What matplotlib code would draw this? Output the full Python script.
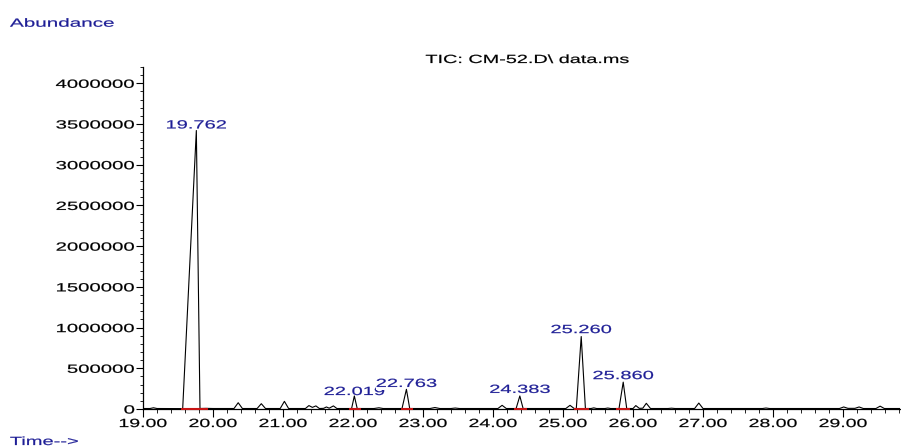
import matplotlib
matplotlib.use("Agg")
import matplotlib.pyplot as plt
import matplotlib.colors as mcolors
from matplotlib.patheffects import AbstractPathEffect
from matplotlib.transforms import Affine2D
from matplotlib.path import Path
from matplotlib.ticker import FixedLocator, MultipleLocator
import numpy as np

# Labelled peaks: retention time (min) and apex abundance
peak_rt = [19.762, 22.019, 22.763, 24.383, 25.260, 25.860]
peak_abund = [3420000, 160000, 242000, 160000, 890000, 330000]

# Integration window of each labelled peak (min)
int_start = [19.54, 21.94, 22.69, 24.30, 25.16, 25.76]
int_end = [19.93, 22.11, 22.86, 24.49, 25.37, 25.96]

# Remaining points of the TIC trace (baseline and minor peaks)
trace_rt = [
    19.00, 19.10, 19.15, 19.20, 19.50, 19.567, 19.814, 19.90, 20.00,
    20.30, 20.36, 20.42, 20.63, 20.69, 20.75, 20.96, 21.02, 21.08,
    21.32, 21.37, 21.42, 21.47, 21.52, 21.58, 21.62, 21.66, 21.72, 21.77,
    21.98, 22.06, 22.30, 22.37, 22.43, 22.70, 22.81,
    23.10, 23.17, 23.24, 23.40, 23.46, 23.52,
    24.07, 24.13, 24.19, 24.33, 24.43,
    25.04, 25.10, 25.16, 25.19, 25.32, 25.40, 25.44, 25.48, 25.60, 25.64, 25.68,
    25.80, 25.91, 26.00, 26.04, 26.09, 26.14, 26.19, 26.25,
    26.50, 26.55, 26.60, 26.88, 26.94, 27.00, 27.85, 27.90, 27.95,
    28.95, 29.01, 29.07, 29.17, 29.23, 29.29, 29.47, 29.53, 29.59, 29.81,
]
trace_abund = [
    6000, 6000, 15000, 6000, 5000, 5000, 6000, 8000, 6000,
    6000, 77000, 6000, 6000, 65000, 6000, 6000, 94000, 6000,
    6000, 42000, 20000, 38000, 6000, 8000, 25000, 10000, 38000, 6000,
    6000, 6000, 6000, 15000, 6000, 6000, 6000,
    6000, 18000, 6000, 6000, 12000, 6000,
    6000, 45000, 6000, 6000, 6000,
    6000, 45000, 6000, 6000, 6000, 6000, 14000, 6000, 6000, 12000, 6000,
    6000, 6000, 6000, 42000, 8000, 10000, 70000, 6000,
    6000, 10000, 6000, 6000, 73000, 6000, 6000, 12000, 6000,
    6000, 25000, 8000, 8000, 25000, 6000, 6000, 35000, 6000, 6000,
]

x_ticks = [19.0, 20.0, 21.0, 22.0, 23.0, 24.0, 25.0, 26.0, 27.0, 28.0, 29.0]
x_tick_labels = ["19.00", "20.00", "21.00", "22.00", "23.00", "24.00",
                 "25.00", "26.00", "27.00", "28.00", "29.00"]
y_ticks = [0, 500000, 1000000, 1500000, 2000000, 2500000, 3000000,
           3500000, 4000000]
y_tick_labels = ["0", "500000", "1000000", "1500000", "2000000", "2500000",
                 "3000000", "3500000", "4000000"]

title_text = "TIC: CM-52.D\\ data.ms"
y_title = "Abundance"
x_title = "Time-->"

BLUE = "#1e1e96"
RED = "#c81414"


class WideText(AbstractPathEffect):
    """Draw text glyphs stretched horizontally about an anchor of the ink."""

    def __init__(self, sx=1.7, anchor=0.5, backdrop=None, stroke=0.15):
        super().__init__()
        self._sx = sx
        self._anchor = anchor
        self._backdrop = backdrop
        self._stroke = stroke

    def draw_path(self, renderer, gc, tpath, affine, rgbFace=None):
        ext = tpath.get_extents()
        cx = ext.x0 + self._anchor * ext.width
        stretch = Affine2D().translate(-cx, 0).scale(self._sx, 1).translate(cx, 0)
        if self._backdrop is not None:
            x0, x1 = ext.x0 - 3, ext.x1 + 3
            rect = Path([(x0, -24), (x1, -24), (x1, 78), (x0, 78), (x0, -24)],
                        closed=True)
            gcb = renderer.new_gc()
            gcb.copy_properties(gc)
            gcb.set_linewidth(0)
            renderer.draw_path(gcb, rect, stretch + affine,
                               mcolors.to_rgb(self._backdrop))
            gcb.restore()
        gc0 = renderer.new_gc()
        gc0.copy_properties(gc)
        gc0.set_linewidth(self._stroke)
        gc0.set_foreground(rgbFace)
        renderer.draw_path(gc0, tpath, stretch + affine, rgbFace)
        gc0.restore()


plt.rcParams["font.family"] = ["Liberation Sans", "DejaVu Sans"]
plt.rcParams["font.size"] = 8.5

W, H = 901, 447
fig = plt.figure(figsize=(W / 100, H / 100), dpi=100)
ax = fig.add_axes([143 / W, 38 / H, 757 / W, 342 / H])

# full trace = baseline/minor points + labelled apexes
t_all = np.array(trace_rt + peak_rt, dtype=float)
a_all = np.array(trace_abund + peak_abund, dtype=float)
order = np.argsort(t_all)
ax.plot(t_all[order], a_all[order], color="black", lw=0.8, zorder=6)

# integration baselines
for s, e in zip(int_start, int_end):
    ax.plot([s, e], [0, 0], color=RED, lw=1.5, zorder=7, clip_on=False,
            solid_capstyle="butt")

# peak retention-time labels
label_offsets = [1.5, 0.7, 1.7, 2.2, 2.5, 2.2]
for rt, ab, off in zip(peak_rt, peak_abund, label_offsets):
    ax.annotate(f"{rt:.3f}", xy=(rt, ab), xytext=(0, off),
                textcoords="offset points", ha="center", va="baseline",
                color=BLUE, zorder=5,
                path_effects=[WideText(1.7, 0.5, backdrop="white")])

ax.set_xlim(19.0, 29.814)
ax.set_ylim(0, 4200000)

ax.xaxis.set_major_locator(FixedLocator(x_ticks))
ax.set_xticklabels(x_tick_labels)
ax.xaxis.set_minor_locator(MultipleLocator(0.2))
ax.yaxis.set_major_locator(FixedLocator(y_ticks))
ax.set_yticklabels(y_tick_labels)
ax.yaxis.set_minor_locator(MultipleLocator(100000))

for side in ("top", "right"):
    ax.spines[side].set_visible(False)
for side in ("left", "bottom"):
    ax.spines[side].set_linewidth(0.9)

ax.tick_params(axis="x", which="major", length=6, width=0.8, pad=0.5,
               direction="out", labelsize=8.5)
ax.tick_params(axis="x", which="minor", length=3, width=0.6, direction="out")
ax.tick_params(axis="y", which="major", length=5, width=0.8, pad=1,
               direction="out", labelsize=8.5)
ax.tick_params(axis="y", which="minor", length=2.5, width=0.6, direction="out")

for lab in ax.get_xticklabels():
    lab.set_path_effects([WideText(1.65, 0.5)])
for lab in ax.get_yticklabels():
    lab.set_path_effects([WideText(1.72, 1.0)])

fig.text(527 / W, 1 - 63 / H, title_text, ha="center", va="baseline",
         color="black", path_effects=[WideText(1.68, 0.5)])
fig.text(10 / W, 1 - 26.7 / H, y_title, ha="left", va="baseline",
         color=BLUE, path_effects=[WideText(1.75, 0.0)])
fig.text(10 / W, 1 - 445 / H, x_title, ha="left", va="baseline",
         color=BLUE, path_effects=[WideText(1.7, 0.0)])

fig.savefig("out.png", dpi=100)
